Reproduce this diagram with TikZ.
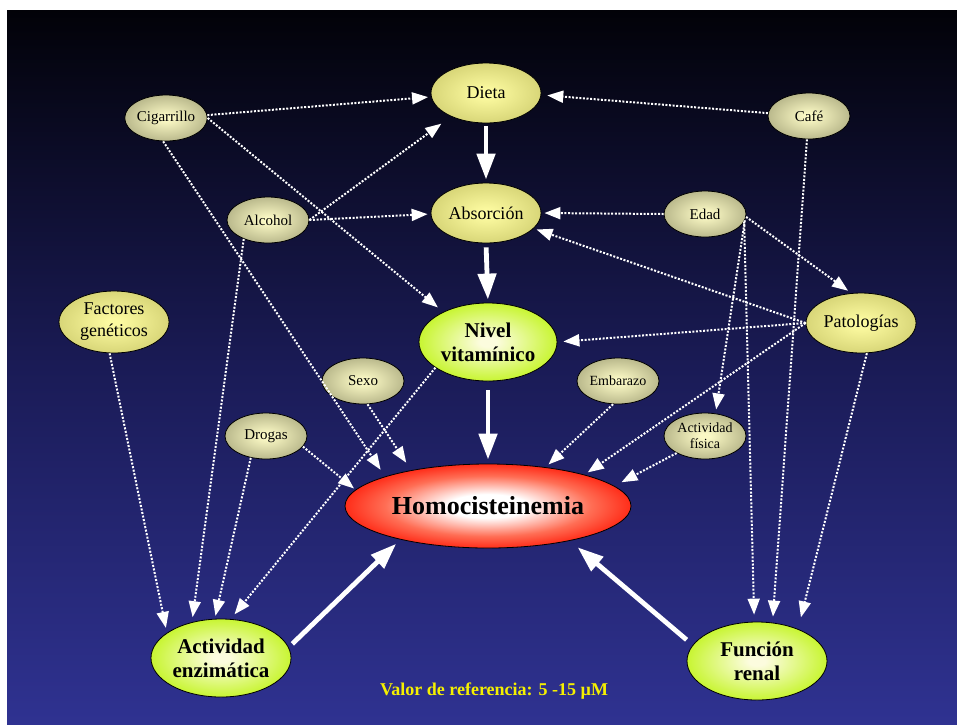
\documentclass[tikz,border=0pt]{standalone}
\usepackage{fontspec}
\setmainfont{Liberation Serif}
\usetikzlibrary{shapes.geometric,arrows.meta}

\definecolor{bgtop}{RGB}{2,2,8}
\definecolor{bgmid}{RGB}{26,27,86}
\definecolor{bgbot}{RGB}{47,50,145}
\definecolor{kin}{RGB}{250,248,196}
\definecolor{kout}{RGB}{186,185,140}
\definecolor{yin}{RGB}{252,250,160}
\definecolor{yout}{RGB}{216,214,120}
\definecolor{gin}{RGB}{252,252,222}
\definecolor{gout}{RGB}{200,245,50}
\definecolor{hin}{RGB}{255,255,255}
\definecolor{hmid}{RGB}{255,110,85}
\definecolor{hout}{RGB}{255,45,25}
\definecolor{valyellow}{RGB}{245,240,0}

\pgfdeclareradialshading{khakiball}{\pgfpointorigin}{color(0bp)=(kin); color(3bp)=(kin); color(25bp)=(kout); color(50bp)=(kout)}
\pgfdeclareradialshading{yellowball}{\pgfpointorigin}{color(0bp)=(yin); color(3bp)=(yin); color(25bp)=(yout); color(50bp)=(yout)}
\pgfdeclareradialshading{limeball}{\pgfpointorigin}{color(0bp)=(gin); color(3bp)=(gin); color(25bp)=(gout); color(50bp)=(gout)}
\pgfdeclareradialshading{redball}{\pgfpointorigin}{color(0bp)=(hin); color(7bp)=(hin); color(18bp)=(hmid); color(25bp)=(hout); color(50bp)=(hout)}

\tikzset{
  basenode/.style={ellipse, draw=black, line width=0.8pt, inner sep=0pt, align=center, text=black, shade},
  smallnode/.style={basenode, shading=khakiball, minimum width=82pt, minimum height=46pt, font=\fontsize{15}{16}\selectfont},
  mednode/.style={basenode, shading=yellowball, minimum width=110pt, minimum height=60pt, font=\fontsize{18}{22}\selectfont},
  greennode/.style={basenode, shading=limeball, minimum width=140pt, minimum height=78pt, font=\bfseries\fontsize{21}{24}\selectfont},
  homonode/.style={basenode, shading=redball, minimum width=286pt, minimum height=84pt, font=\bfseries\fontsize{26}{28}\selectfont},
  dotarrow/.style={draw=white, line width=2pt, dash pattern=on 2pt off 1.6pt, -{Triangle[length=16pt,width=12pt]}},
  bigarrow/.style={draw=white, line width=4.8pt, -{Triangle[length=26pt,width=18pt]}},
  valornode/.style={font=\bfseries\fontsize{18}{20}\selectfont, text=valyellow, inner sep=0pt}
}

\begin{document}
\begin{tikzpicture}[x=1pt,y=-1pt]
\useasboundingbox (0,0) rectangle (957,724);
\fill[white] (0,0) rectangle (957,724);
\shade[top color=bgtop, bottom color=bgbot, middle color=bgmid] (7,10) rectangle (957,724);

% nodes
\node[mednode] (dieta) at (486,93) {Dieta};
\node[mednode] (abs) at (486,213) {Absorción};
\node[smallnode] (cig) at (166,118) {Cigarrillo};
\node[smallnode] (alc) at (268,220) {Alcohol};
\node[smallnode] (cafe) at (809,116) {Café};
\node[smallnode] (edad) at (705,214) {Edad};
\node[mednode] (pat) at (861,323) {Patologías};
\node[mednode, minimum height=62pt] (fac) at (114,322) {Factores\\genéticos};
\node[smallnode] (sexo) at (363,381) {Sexo};
\node[smallnode] (drog) at (266,436) {Drogas};
\node[greennode, minimum width=138pt] (niv) at (488,342) {Nivel\\vitamínico};
\node[smallnode, font=\fontsize{14}{16}\selectfont] (emb) at (618,381) {Embarazo};
\node[smallnode, font=\fontsize{14}{16}\selectfont] (actf) at (705,436) {Actividad\\física};
\node[homonode] (homo) at (488,506) {Homocisteinemia};
\node[greennode] (enz) at (221,658) {Actividad\\enzimática};
\node[greennode] (ren) at (757,661) {Función\\renal};
\node[valornode] (valor) at (494,691) {Valor de referencia: 5 -15 µM};

% dotted connectors
\draw[dotarrow, shorten >=3pt] (cig.4) -- (dieta.184);
\draw[dotarrow, shorten >=6pt] (cafe.176) -- (dieta.358);
\draw[dotarrow, shorten >=7pt] (cig.east) -- (niv.146);
\draw[dotarrow, shorten >=8pt] (cig.263) -- (homo.164);
\draw[dotarrow, shorten >=12pt] (alc.east) -- (dieta.214);
\draw[dotarrow, shorten >=3pt] (alc.east) -- (abs.181);
\draw[dotarrow, shorten >=5pt] (alc.218) -- (enz.129);
\draw[dotarrow, shorten >=5pt] (fac.262) -- (enz.155);
\draw[dotarrow, shorten >=3pt] (drog.235) -- (enz.99);
\draw[dotarrow, shorten >=6pt] (niv.206) -- (enz.76);
\draw[dotarrow, shorten >=2pt] (drog.344) -- (homo.173);
\draw[dotarrow, shorten >=9pt] (sexo.281) -- (homo.155);
\draw[dotarrow, shorten >=4pt] (emb.258) -- (homo.34);
\draw[dotarrow, shorten >=8pt] (actf.211) -- (homo.9);
\draw[dotarrow, shorten >=3pt] (pat.west) -- (abs.342);
\draw[dotarrow, shorten >=6pt] (pat.west) -- (niv.east);
\draw[dotarrow, shorten >=4pt] (pat.west) -- (homo.18);
\draw[dotarrow, shorten >=12pt] (pat.281) -- (ren.38);
\draw[dotarrow, shorten >=4pt] (edad.356) -- (pat.108);
\draw[dotarrow, shorten >=4pt] (edad.351) -- (actf.65);
\draw[dotarrow, shorten >=7pt] (edad.349) -- (ren.94);
\draw[dotarrow, shorten >=6pt] (cafe.265) -- (ren.68);
\draw[dotarrow, shorten >=3pt] (edad.west) -- (abs.east);

% thick connectors
\draw[bigarrow, shorten <=3pt, shorten >=3pt] (dieta.south) -- (abs.north);
\draw[bigarrow, shorten <=4pt, shorten >=3pt] (abs.south) -- (niv.north);
\draw[bigarrow, shorten <=9pt, shorten >=4pt] (niv.south) -- (homo.north);
\draw[bigarrow, shorten <=5pt, shorten >=6pt] (enz.9) -- (homo.201);
\draw[bigarrow, shorten <=8pt, shorten >=10pt] (ren.166) -- (homo.337);
\end{tikzpicture}
\end{document}
